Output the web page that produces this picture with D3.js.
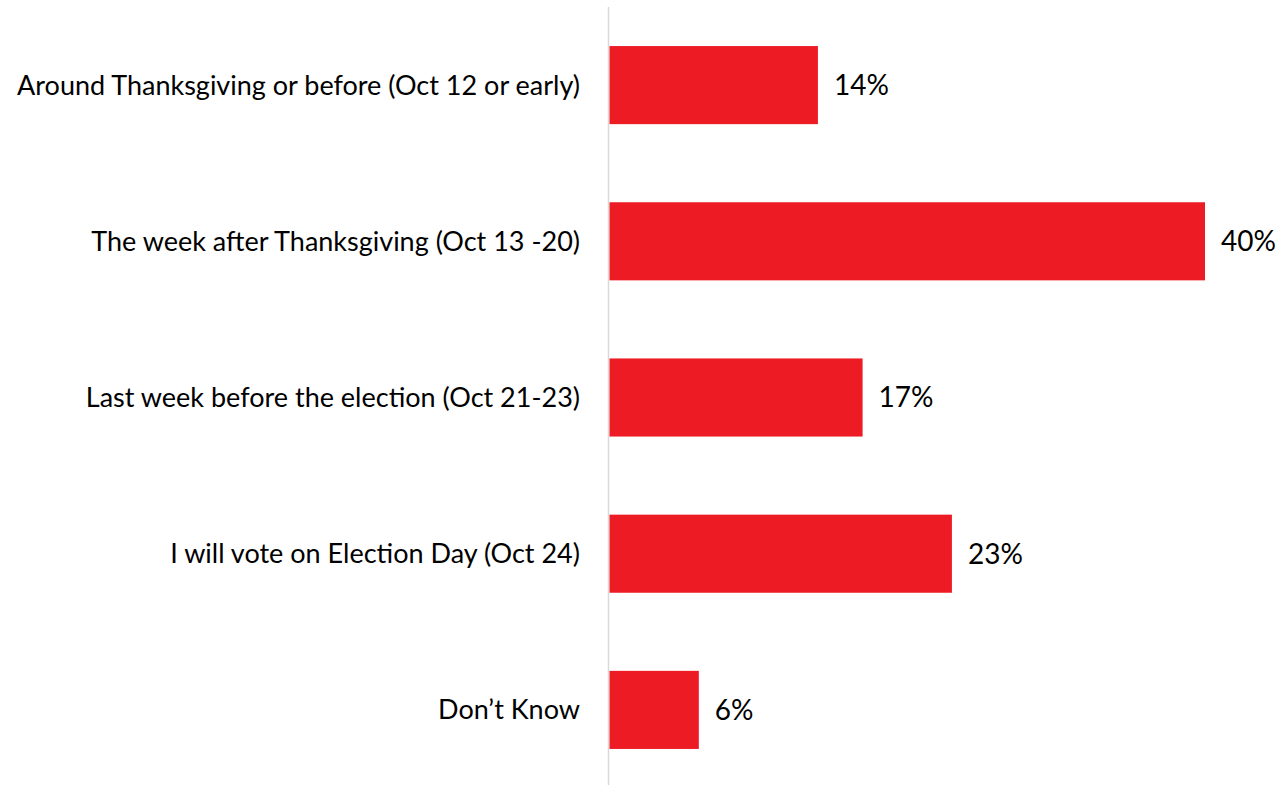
<!DOCTYPE html>
<html><head><meta charset="utf-8">
<script src="https://cdn.jsdelivr.net/npm/d3@7"></script>
<style>body{margin:0;background:#fff;} svg{display:block;}</style>
</head><body>
<script>
const categories = [
  "Around Thanksgiving or before (Oct 12 or early)",
  "The week after Thanksgiving (Oct 13 -20)",
  "Last week before the election (Oct 21-23)",
  "I will vote on Election Day (Oct 24)",
  "Don\u2019t Know"
];
const values = [14, 40, 17, 23, 6];
const valueLabels = ["14%", "40%", "17%", "23%", "6%"];

const W = 1280, H = 785;
const svg = d3.select("body").append("svg").attr("width", W).attr("height", H);
const x = d3.scaleLinear().domain([0, 40]).range([609.5, 1205]);
const y = d3.scaleBand().domain(categories).range([7, 788]).paddingInner(0.5).paddingOuter(0.25);
const font = "Lato, 'Open Sans', sans-serif";

svg.append("line").attr("x1", 608.5).attr("x2", 608.5).attr("y1", 7).attr("y2", 785)
  .attr("stroke", "#d9d9d9").attr("stroke-width", 1.5);

svg.selectAll("rect.bar").data(values).join("rect").attr("class", "bar")
  .attr("x", x(0)).attr("y", (d, i) => y(categories[i]))
  .attr("width", d => x(d) - x(0)).attr("height", y.bandwidth())
  .attr("fill", "#ED1C24");

svg.selectAll("text.val").data(values).join("text").attr("class", "val")
  .attr("x", d => x(d) + 16).attr("y", (d, i) => y(categories[i]) + y.bandwidth() / 2)
  .attr("dy", "0.35em").attr("font-family", font).attr("font-size", 28).attr("fill", "#000")
  .text((d, i) => valueLabels[i]);

svg.selectAll("text.cat").data(categories).join("text").attr("class", "cat")
  .attr("x", 580).attr("y", d => y(d) + y.bandwidth() / 2)
  .attr("dy", "0.35em").attr("text-anchor", "end")
  .attr("font-family", font).attr("font-size", 27).attr("fill", "#000")
  .text(d => d);
</script>
</body></html>
